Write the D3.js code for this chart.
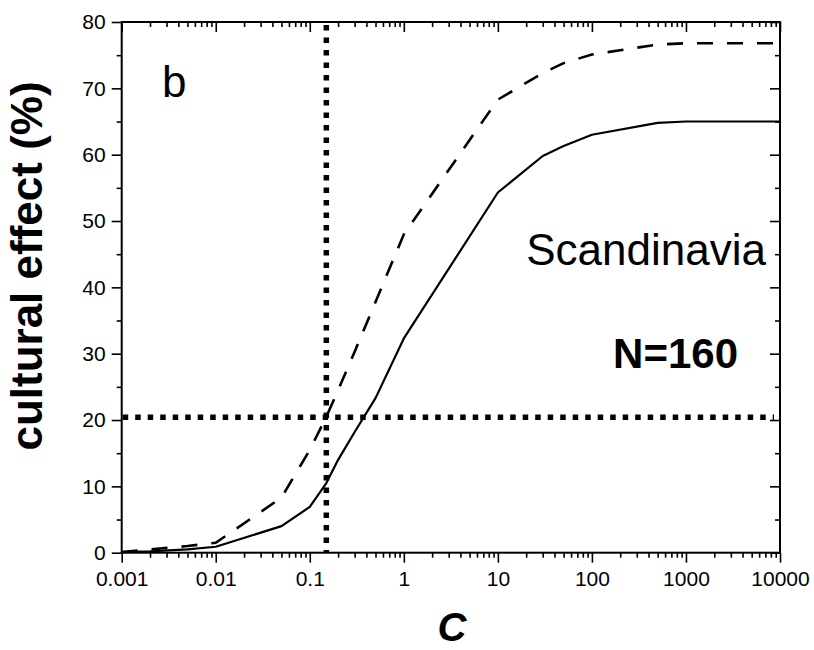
<!DOCTYPE html>
<html>
<head>
<meta charset="utf-8">
<script src="https://cdn.jsdelivr.net/npm/d3@7"></script>
<style>
  html, body { margin: 0; padding: 0; background: #fff; }
  svg { display: block; font-family: "Liberation Sans", Arial, sans-serif; }
</style>
</head>
<body>
<svg id="chart" width="814" height="650"></svg>
<script>
// ---- data ----
const cValues = [0.001, 0.002, 0.005, 0.01, 0.05, 0.1, 0.15, 0.2, 0.3, 0.5, 1, 10, 30, 50, 100, 500, 1000, 10000];
const solidSeries = [0.1, 0.2, 0.5, 0.9, 4.0, 6.9, 10.5, 14.0, 18.2, 23.3, 32.3, 54.3, 59.8, 61.3, 63.0, 64.8, 65.0, 65.0];
const dashedSeries = [0.1, 0.5, 1.0, 1.5, 8.3, 15.5, 20.5, 24.5, 30.3, 37.8, 48.0, 68.3, 72.3, 73.8, 75.1, 76.6, 76.8, 76.8];
const xTicks = [0.001, 0.01, 0.1, 1, 10, 100, 1000, 10000];
const xTickLabels = ["0.001", "0.01", "0.1", "1", "10", "100", "1000", "10000"];
const yTicks = [0, 10, 20, 30, 40, 50, 60, 70, 80];
const yMinorTicks = [5, 15, 25, 35, 45, 55, 65, 75];
const refC = 0.15;
const refEffect = 20.4;
const yTitle = "cultural effect (%)";
const xTitle = "C";
const panelLabel = "b";
const regionLabel = "Scandinavia";
const sizeLabel = "N=160";

// ---- layout ----
const L = 121.7, R = 780, T = 22, B = 552.7;
const svg = d3.select("#chart");
const x = d3.scaleLog().domain([0.001, 10000]).range([L, R]);
const y = d3.scaleLinear().domain([0, 80]).range([B, T]);

const xMinor = [];
for (let e = -3; e < 4; e++) for (let m = 2; m <= 9; m++) xMinor.push(m * Math.pow(10, e));

function styleAxis(g) {
  g.select(".domain").remove();
  g.selectAll(".tick line").attr("stroke", "#000").attr("stroke-width", 1.6);
  g.selectAll(".tick text").attr("fill", "#000").style("font-size", "21px")
    .style("font-family", "'Liberation Sans', Arial, sans-serif");
}

// bottom axis (outward ticks)
svg.append("g").attr("transform", `translate(0,${B})`)
  .call(d3.axisBottom(x).tickValues(xMinor).tickSize(5).tickFormat(""))
  .call(styleAxis);
svg.append("g").attr("transform", `translate(0,${B})`)
  .call(d3.axisBottom(x).tickValues(xTicks).tickSize(10).tickPadding(8)
    .tickFormat((d, i) => xTickLabels[i]))
  .call(styleAxis);
// top axis (inward)
svg.append("g").attr("transform", `translate(0,${T})`)
  .call(d3.axisTop(x).tickValues(xMinor).tickSize(-5).tickFormat(""))
  .call(styleAxis);
svg.append("g").attr("transform", `translate(0,${T})`)
  .call(d3.axisTop(x).tickValues(xTicks).tickSize(-10).tickFormat(""))
  .call(styleAxis);
// left axis (outward)
svg.append("g").attr("transform", `translate(${L},0)`)
  .call(d3.axisLeft(y).tickValues(yMinorTicks).tickSize(5).tickFormat(""))
  .call(styleAxis);
svg.append("g").attr("transform", `translate(${L},0)`)
  .call(d3.axisLeft(y).tickValues(yTicks).tickSize(10).tickPadding(6).tickFormat(d3.format("d")))
  .call(styleAxis);
// right axis (inward)
svg.append("g").attr("transform", `translate(${R},0)`)
  .call(d3.axisRight(y).tickValues(yMinorTicks).tickSize(-5).tickFormat(""))
  .call(styleAxis);
svg.append("g").attr("transform", `translate(${R},0)`)
  .call(d3.axisRight(y).tickValues(yTicks).tickSize(-10).tickFormat(""))
  .call(styleAxis);

// frame
svg.append("rect").attr("x", L).attr("y", T).attr("width", R - L).attr("height", B - T)
  .attr("fill", "none").attr("stroke", "#000").attr("stroke-width", 2);

// reference dotted lines
svg.append("line").attr("x1", x(refC)).attr("x2", x(refC)).attr("y1", y(80) + 3).attr("y2", y(0))
  .attr("stroke", "#000").attr("stroke-width", 5.5).attr("stroke-dasharray", "5.5,7");
svg.append("line").attr("x1", x(0.001) + 1).attr("x2", R - 6).attr("y1", y(refEffect)).attr("y2", y(refEffect))
  .attr("stroke", "#000").attr("stroke-width", 5.5).attr("stroke-dasharray", "5.5,7");

// curves
const line = d3.line().x(d => x(d[0])).y(d => y(d[1]));
svg.append("path").datum(cValues.map((c, i) => [c, dashedSeries[i]]))
  .attr("d", line).attr("fill", "none").attr("stroke", "#000").attr("stroke-width", 2.6)
  .attr("stroke-dasharray", "16,14");
svg.append("path").datum(cValues.map((c, i) => [c, solidSeries[i]]))
  .attr("d", line).attr("fill", "none").attr("stroke", "#000").attr("stroke-width", 2.2)
  .attr("stroke-linejoin", "round");

// texts
svg.append("text").attr("x", 162).attr("y", 97).text(panelLabel)
  .style("font-size", "44px");
svg.append("text").attr("x", 766).attr("y", 265).attr("text-anchor", "end").text(regionLabel)
  .style("font-size", "44px");
svg.append("text").attr("x", 738).attr("y", 368).attr("text-anchor", "end").text(sizeLabel)
  .style("font-size", "42px").style("font-weight", "bold");
svg.append("text").attr("transform", "translate(42,266) rotate(-90)").attr("text-anchor", "middle")
  .text(yTitle).style("font-size", "44px").style("font-weight", "bold");
svg.append("text").attr("x", 452).attr("y", 641).attr("text-anchor", "middle").text(xTitle)
  .style("font-size", "40px").style("font-weight", "bold").style("font-style", "italic");
</script>
</body>
</html>
